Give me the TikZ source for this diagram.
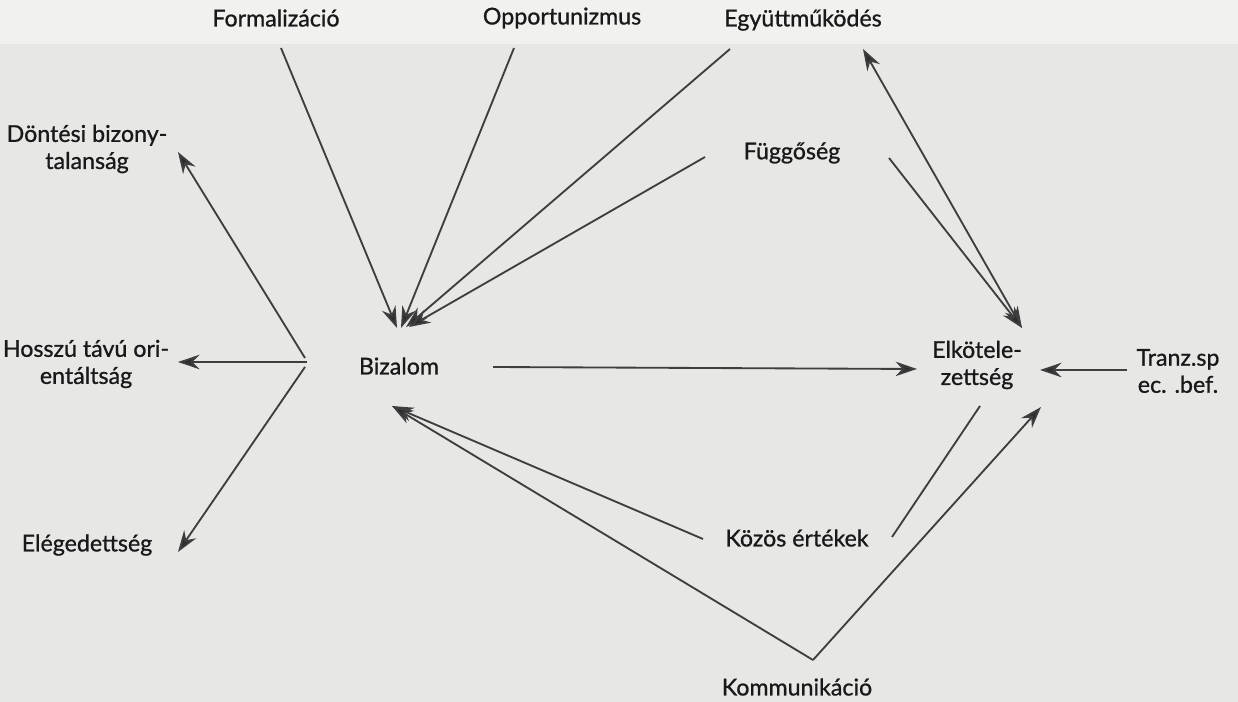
\documentclass[tikz,border=0pt]{standalone}
\usepackage{fontspec}
\setmainfont{Lato}
\newfontfamily\lblfont[FakeBold=0.9]{Lato}
\usetikzlibrary{arrows.meta}
\definecolor{bg}{RGB}{231,231,229}
\definecolor{bgl}{RGB}{241,241,239}
\definecolor{ln}{RGB}{62,62,62}
\definecolor{tip}{RGB}{45,45,45}
\definecolor{tx}{RGB}{25,25,25}
\begin{document}
\begin{tikzpicture}[x=0.02cm,y=-0.02cm,
  lbl/.style={text=tx, font=\lblfont\fontsize{13.2}{15.4}\selectfont, align=center, inner sep=0pt},
  tipstyle/.tip={Stealth[length=0.43cm,width=0.29cm,inset=0.14cm,fill=tip]},
  conn/.style={draw=ln, line width=1.05pt},
  arr/.style={conn, -tipstyle},
  darr/.style={conn, tipstyle-tipstyle}]
% background
\fill[bg] (0,0) rectangle (1238,702);
\fill[bgl] (0,0) rectangle (1238,44);
\useasboundingbox (0,0) rectangle (1238,702);

% nodes
\node[lbl] (form)  at (276,18)  {Formalizáció};
\node[lbl] (opp)   at (562,18)  {Opportunizmus};
\node[lbl] (egy)   at (803,20)  {Együttműködés};
\node[lbl] (fugg)  at (792,153) {Függőség};
\node[lbl] (dont)  at (87,149)  {Döntési bizony-\\talanság};
\node[lbl] (hossz) at (86,364)  {Hosszú távú ori-\\entáltság};
\node[lbl] (eleg)  at (87,545)  {Elégedettség};
\node[lbl] (biz)   at (399,366) {Bizalom};
\node[lbl] (elk)   at (977,365) {Elkötele-\\zettség};
\node[lbl] (tranz) at (1178,371){Tranz.sp\\ec. .bef.};
\node[lbl] (kozos) at (797,538) {Közös értékek};
\node[lbl] (komm)  at (797,687) {Kommunikáció};

% ports
\coordinate (form-o)  at (281,48);
\coordinate (opp-o)   at (514,48);
\coordinate (egy-o)   at (730,49);
\coordinate (egy-i)   at (863,49);
\coordinate (fugg-o)  at (705,157);
\coordinate (fugg-o2) at (889,158);
\coordinate (biz-t1)  at (397,328);
\coordinate (biz-t2)  at (401,328);
\coordinate (biz-t3)  at (406,327);
\coordinate (biz-t4)  at (409,327);
\coordinate (biz-r)   at (493,367);
\coordinate (biz-b)   at (392,406);
\coordinate (hub-u)   at (305,358);
\coordinate (hub-m)   at (307,362);
\coordinate (hub-d)   at (305,367);
\coordinate (dont-i)  at (178,152);
\coordinate (hossz-i) at (178,362);
\coordinate (eleg-i)  at (178,552);
\coordinate (elk-t)   at (1022,328);
\coordinate (elk-l)   at (917,369);
\coordinate (elk-r)   at (1040,370);
\coordinate (elk-b)   at (980,406);
\coordinate (elk-k)   at (1041,407);
\coordinate (tranz-o) at (1127,370);
\coordinate (kozos-o) at (703,539);
\coordinate (kozos-o2) at (892,537);
\coordinate (komm-o)  at (813,660);

% connectors into Bizalom
\draw[arr] (form-o) -- (biz-t1);
\draw[arr] (opp-o) -- (biz-t2);
\draw[arr] (egy-o) -- (biz-t3);
\draw[arr] (fugg-o) -- (biz-t4);
\draw[arr] (kozos-o) -- (biz-b);
\draw[arr] (komm-o) -- (biz-b);

% from Bizalom hub to the left
\draw[arr] (hub-u) -- (dont-i);
\draw[arr] (hub-m) -- (hossz-i);
\draw[arr] (hub-d) -- (eleg-i);

% Elkötelezettség
\draw[darr] (egy-i) -- (elk-t);
\draw[arr] (fugg-o2) -- (elk-t);
\draw[arr] (biz-r) -- (elk-l);
\draw[arr] (tranz-o) -- (elk-r);
\draw[conn] (kozos-o2) -- (elk-b);
\draw[arr] (komm-o) -- (elk-k);
\end{tikzpicture}
\end{document}
